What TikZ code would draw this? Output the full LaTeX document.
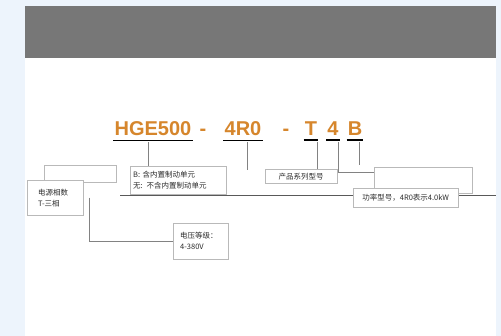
\documentclass[tikz,border=0pt]{standalone}
\usepackage{fontspec}
\setmainfont{Liberation Sans}
\newfontfamily\cjk{Noto Sans CJK SC}
\usepackage{xcolor}
\usepackage{tikz}
\usetikzlibrary{positioning, calc}
\definecolor{codeorange}{RGB}{214, 134, 44}
\definecolor{headgray}{RGB}{119, 119, 119}
\definecolor{pageblue}{RGB}{237, 244, 252}
\definecolor{boxline}{RGB}{185, 185, 185}
\definecolor{leadgray}{RGB}{130, 130, 130}
\definecolor{textdark}{RGB}{45, 45, 45}

\begin{document}
\begin{tikzpicture}[x=1pt, y=-1pt, every node/.style={font=\cjk\fontsize{7.5}{11}\selectfont, text=textdark}, align=left]
  % Styles
  \tikzstyle{code} = [text=codeorange, font=\bfseries\fontsize{20}{20}\selectfont, inner sep=1pt, anchor=base]
  \tikzstyle{note} = [rectangle, draw=boxline, fill=white, anchor=north west, inner sep=0pt]
  \tikzstyle{uline} = [line width=1.6pt, black]
  \tikzstyle{lead} = [thin, leadgray]

  % Page and header bar
  \fill[pageblue] (0,0) rectangle (501,336);
  \fill[white] (25,6) rectangle (496,336);
  \fill[headgray] (25,6) rectangle (496,58);
  \useasboundingbox (0,0) rectangle (501,336);

  % Model code
  \node (hge) [code] at (153,136) {HGE500};
  \node (sepA) [code] at (203,136) {-};
  \node (rzero) [code] at (243,136) {4R0};
  \node (sepB) [code] at (286,136) {-};
  \node (tcode) [code] at (311,136) {T};
  \node (fcode) [code] at (333,136) {4};
  \node (bcode) [code] at (355,136) {B};
  \foreach \c in {hge, rzero, tcode, fcode, bcode}
    \draw [uline] ([yshift=-3pt]\c.south west) -- ([yshift=-3pt]\c.south east);

  % Base line
  \coordinate (lineL) at (120,196);
  \coordinate (lineR) at (496,196);
  \draw [line width=1pt, black!65] (lineL) -- (lineR);

  % Notes
  \node (backL) [note, minimum width=72pt, minimum height=17pt] at (44,165) {};
  \node (phase) [note, text width=34pt, inner xsep=11pt, inner ysep=6pt, minimum height=35pt] at (27,180) {电源相数\\T-三相};
  \node (brake) [note, text width=90pt, inner xsep=3pt, inner ysep=4pt, minimum height=28pt] at (130,166) {B: 含内置制动单元\\无: 不含内置制动单元};
  \node (series) [note, align=center, minimum width=72pt, minimum height=14pt] at (265,169) {产品系列型号};
  \node (blankR) [note, minimum width=98pt, minimum height=26pt] at (374,167) {};
  \node (power) [note, align=center, minimum width=105pt, minimum height=19pt] at (353,188) {功率型号，4R0表示4.0kW};
  \node (volt) [note, text width=41pt, inner xsep=7pt, inner ysep=5pt, minimum height=36pt] at (173,223) {电压等级：\\4-380V};

  % Leads
  \coordinate (rEnd) at (247,170);
  \coordinate (bEnd) at (359,165);
  \draw [lead] ([xshift=-5pt,yshift=-5pt]hge.south) -- ([xshift=-5pt]hge.south |- brake.north);
  \draw [lead] ([xshift=4pt,yshift=-5pt]rzero.south) -- (rEnd);
  \draw [lead] ([xshift=6pt,yshift=-5pt]tcode.south) -- ([xshift=6pt]tcode.south |- series.north);
  \draw [lead] ([xshift=5pt,yshift=-5pt]fcode.south) |- ([yshift=8pt]blankR.west);
  \draw [lead] ([xshift=4pt,yshift=-5pt]bcode.south) -- (bEnd);
  \draw [lead] ([xshift=6pt]phase.east) |- (volt.west);
\end{tikzpicture}
\end{document}
